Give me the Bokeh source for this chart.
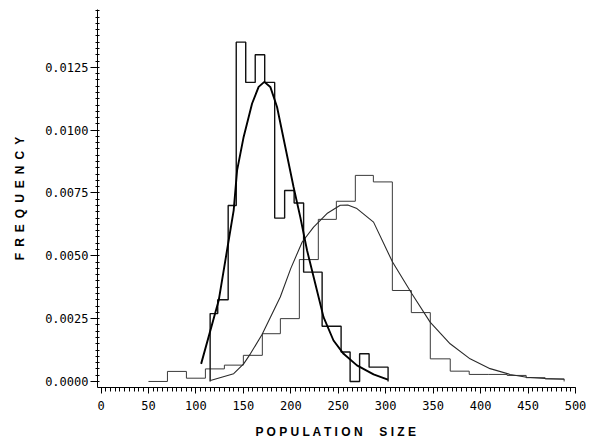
from bokeh.plotting import figure
from bokeh.models import Range1d, FixedTicker, NumeralTickFormatter
from bokeh.embed import file_html
from bokeh.resources import INLINE

# ---- data ----
# broad (right) population histogram: bin edges and densities
broad_edges = [50, 70, 90, 110, 130, 150, 170, 189, 209, 229, 248, 268, 287,
               307, 327, 347, 368, 388, 408, 428, 448, 468, 488]
broad_heights = [0.0, 0.0004, 0.00013, 0.0005, 0.00065, 0.00104, 0.0019, 0.0025,
                 0.00485, 0.00645, 0.00717, 0.0082, 0.00794, 0.00362, 0.00274,
                 0.0009, 0.00041, 0.00028, 0.00028, 0.00024, 0.00015, 0.0001]

# narrow (left) population histogram: bin edges and densities
narrow_edges = [115, 123, 134, 142.5, 152.5, 162.5, 172.5, 183, 193.5, 203.5,
                213.5, 233, 253, 262.5, 272.5, 282.5, 302.5]
narrow_heights = [0.0027, 0.00325, 0.007, 0.0135, 0.0119, 0.0130, 0.0119, 0.0065,
                  0.0076, 0.0071, 0.00435, 0.0022, 0.00117, 0.0, 0.0011, 0.00057]

# fitted curve of the narrow population
narrow_curve_x = [105.5, 124, 132.8, 139.8, 143.4, 150.3, 159.2, 166.1, 172.1, 178.4,
                  185.5, 194.2, 202.9, 210, 217.1, 225.8, 234.5, 245, 255.6, 269.7,
                  287.2, 302.3]
narrow_curve_y = [0.0007, 0.00322, 0.00522, 0.00681, 0.0084, 0.00973, 0.01106, 0.01172,
                  0.01192, 0.01172, 0.01092, 0.00933, 0.00774, 0.00654, 0.00522,
                  0.00389, 0.00256, 0.00163, 0.0011, 0.00064, 0.00028, 0.00007]

# fitted curve of the broad population
broad_curve_x = [115.3, 139.8, 150.3, 157.4, 169.7, 188.9, 200, 212, 224, 238.1, 252.1,
                 260, 269.7, 287.2, 307.2, 327.6, 346.8, 367.9, 388.9, 410, 431.1,
                 448.6, 467.9, 488.2]
broad_curve_y = [0.00004, 0.00031, 0.0007, 0.0011, 0.00187, 0.00336, 0.0045, 0.00555,
                 0.00614, 0.00668, 0.00701, 0.00702, 0.00688, 0.00634, 0.00475, 0.00349,
                 0.00236, 0.0015, 0.0009, 0.00051, 0.00028, 0.00017, 0.00012, 0.00009]

x_ticks = [0, 50, 100, 150, 200, 250, 300, 350, 400, 450, 500]
y_ticks = [0.0, 0.0025, 0.005, 0.0075, 0.01, 0.0125]


def step_outline(edges, heights):
    xs, ys = [edges[0]], [0.0]
    for i, h in enumerate(heights):
        xs += [edges[i], edges[i + 1]]
        ys += [h, h]
    xs.append(edges[-1])
    ys.append(0.0)
    return xs, ys


p = figure(width=586, height=442, output_backend="svg", toolbar_location=None,
           x_range=Range1d(-3.7, 500), y_range=Range1d(-0.00024, 0.0148),
           min_border_left=97, min_border_right=11, min_border_top=9,
           min_border_bottom=55)
p.outline_line_color = None
p.xgrid.visible = False
p.ygrid.visible = False
p.background_fill_color = "white"

bx, by = step_outline(broad_edges, broad_heights)
p.line(bx, by, line_color="#3a3a3a", line_width=1.0)
nx, ny = step_outline(narrow_edges, narrow_heights)
p.line(nx, ny, line_color="#111111", line_width=1.4)

p.line(broad_curve_x, broad_curve_y, line_color="#2a2a2a", line_width=1.1)
p.line(narrow_curve_x, narrow_curve_y, line_color="black", line_width=1.9)

# minor tick lists
x_minor = list(range(0, 501, 5))
y_minor = [i * 0.00025 for i in range(0, 60)]

xa = p.xaxis[0]
xa.ticker = FixedTicker(ticks=x_ticks, minor_ticks=x_minor)
xa.axis_label = "P O P U L A T I O N\u00a0\u00a0\u00a0\u00a0\u00a0S I Z E"
xa.axis_label_text_font = "Liberation Sans"
xa.axis_label_text_font_style = "bold"
xa.axis_label_text_font_size = "12px"
xa.axis_label_text_color = "black"
xa.axis_label_standoff = 12
xa.major_label_text_font = "DejaVu Sans Mono"
xa.major_label_text_font_size = "12px"
xa.major_label_text_color = "black"
xa.major_label_standoff = 7
xa.major_tick_out = 6
xa.major_tick_in = 0
xa.minor_tick_out = 4
xa.minor_tick_in = 0
xa.axis_line_color = "black"
xa.major_tick_line_color = "black"
xa.minor_tick_line_color = "black"

ya = p.yaxis[0]
ya.ticker = FixedTicker(ticks=y_ticks, minor_ticks=y_minor)
ya.formatter = NumeralTickFormatter(format="0.0000")
ya.axis_label = "\u2002".join("FREQUENCY")
ya.axis_label_text_font = "Liberation Sans"
ya.axis_label_text_font_style = "bold"
ya.axis_label_text_font_size = "12px"
ya.axis_label_text_color = "black"
ya.axis_label_standoff = 15
ya.major_label_text_font = "DejaVu Sans Mono"
ya.major_label_text_font_size = "12px"
ya.major_label_text_color = "black"
ya.major_label_standoff = 2
ya.major_tick_out = 7
ya.major_tick_in = 0
ya.minor_tick_out = 2
ya.minor_tick_in = 2
ya.axis_line_color = "black"
ya.major_tick_line_color = "black"
ya.minor_tick_line_color = "black"

open("out.html", "w").write(file_html(p, INLINE))
